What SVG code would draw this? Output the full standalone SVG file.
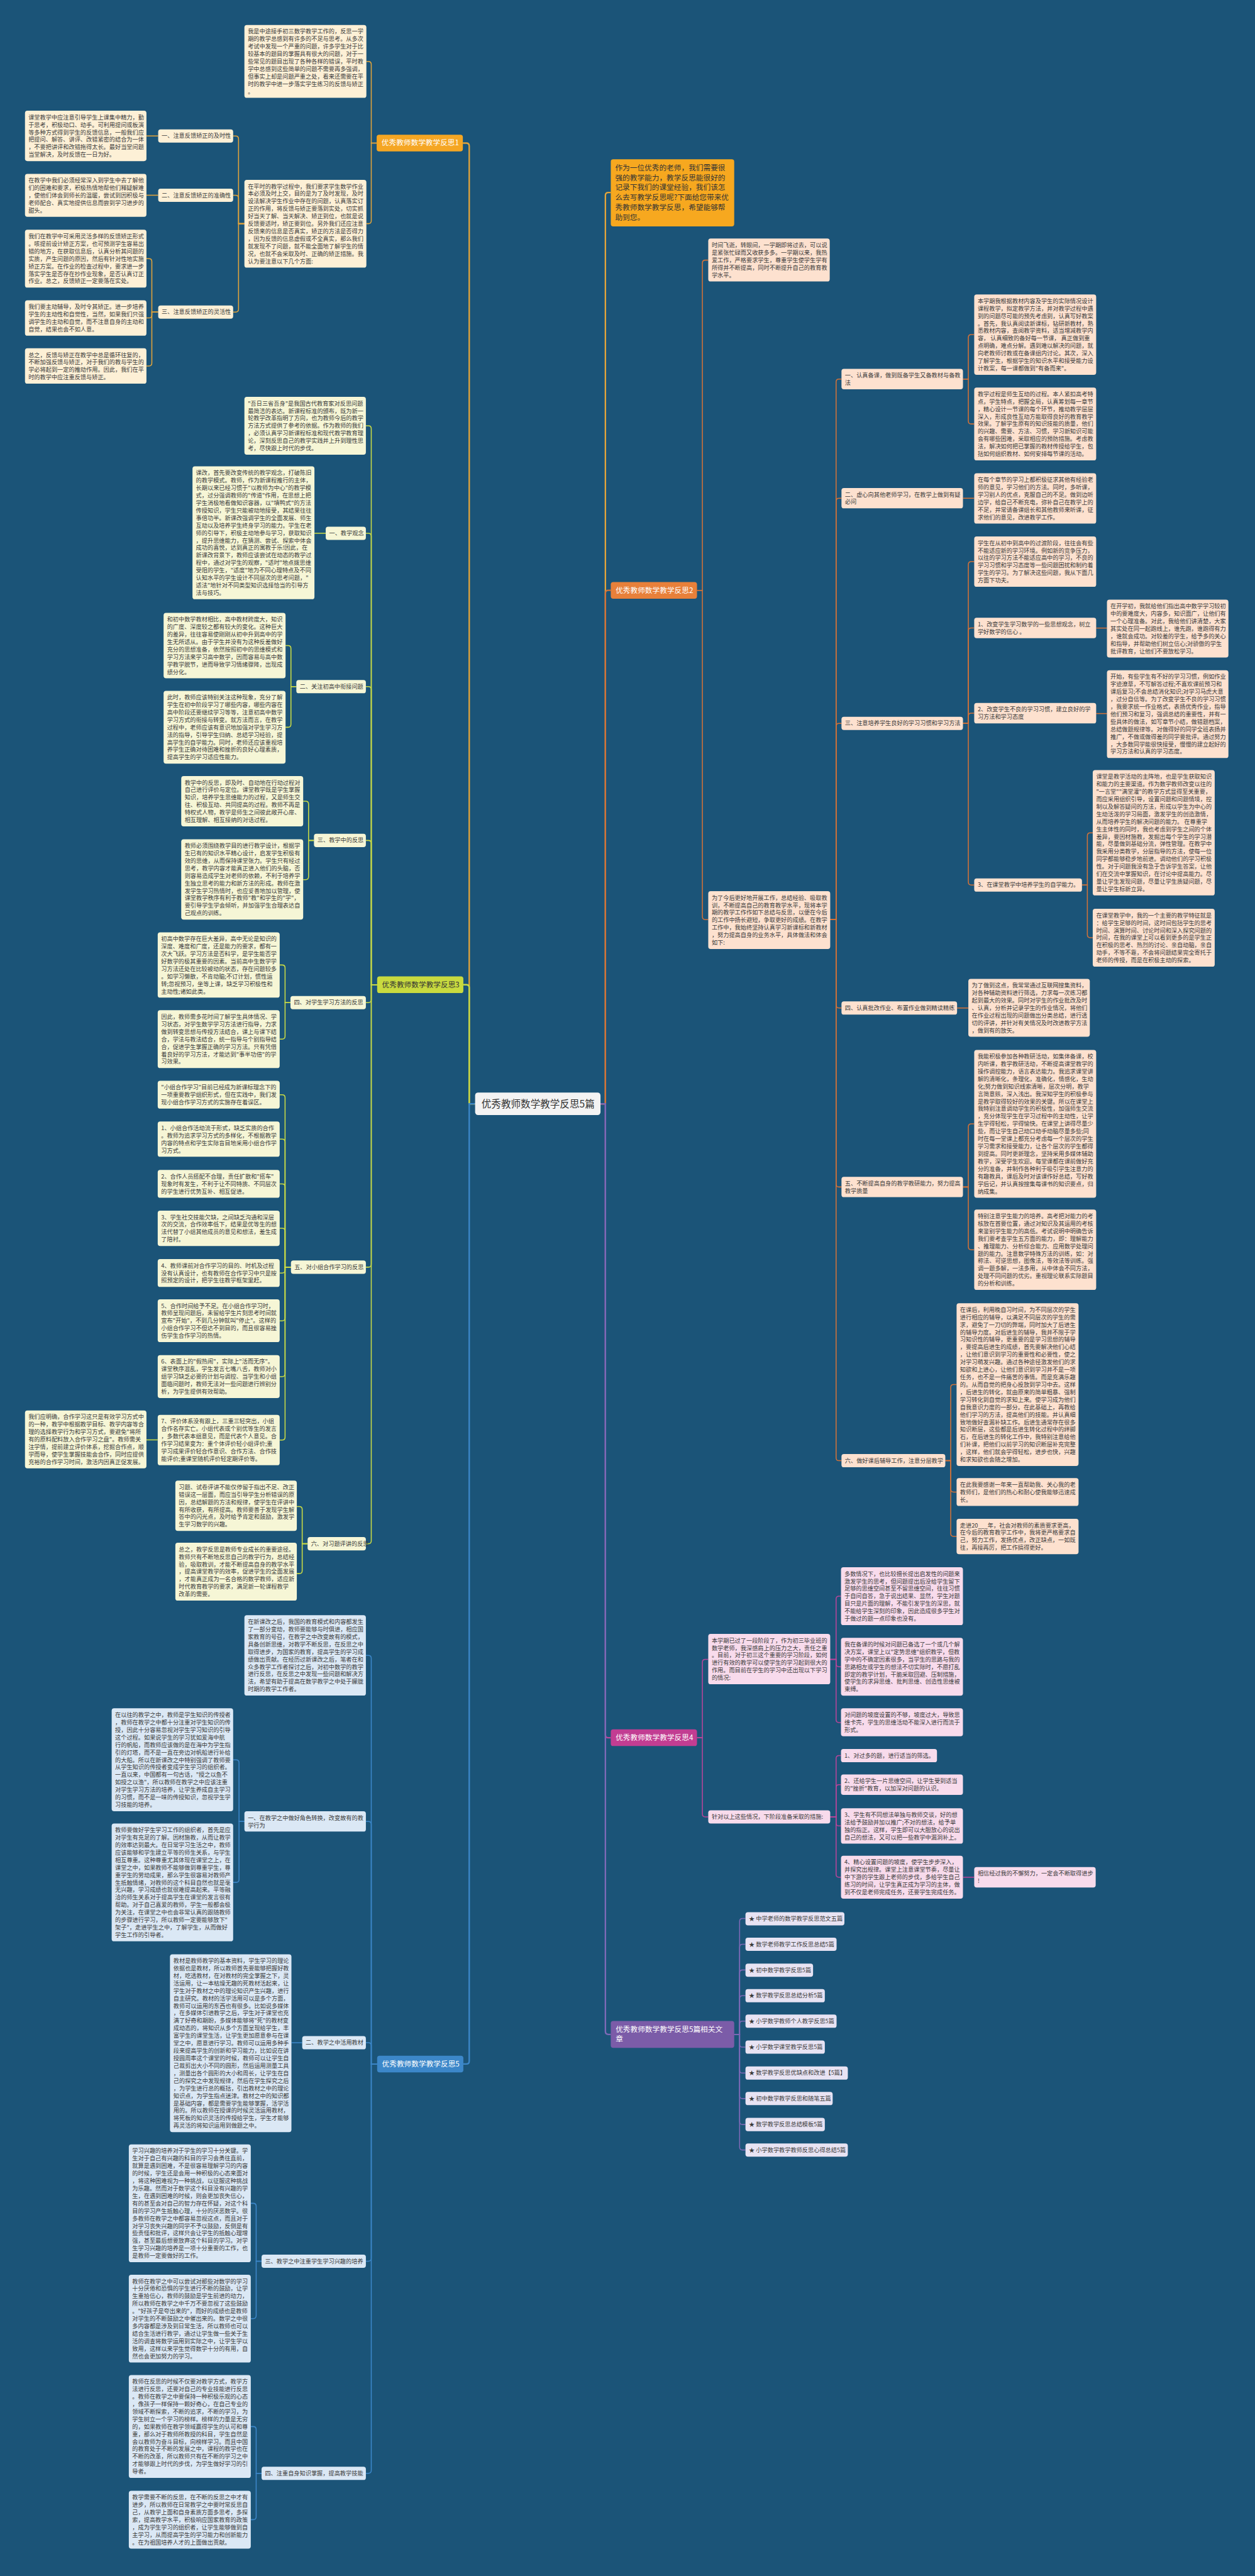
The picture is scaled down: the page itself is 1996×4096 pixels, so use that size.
<svg xmlns="http://www.w3.org/2000/svg" width="1996" height="4096" viewBox="0 0 1996 4096">
<style>
.t{font-family:"Noto Sans CJK SC","Noto Sans",sans-serif;font-size:11.8px;fill:#3a3a3a}
.bt{font-family:"Noto Sans CJK SC","Noto Sans",sans-serif;font-size:15px;fill:#ffffff}
.dk{fill:#333}
.rt{font-family:"Noto Sans CJK SC","Noto Sans",sans-serif;font-size:20px;fill:#333}
.c{fill:none;stroke-width:2}
.c0{fill:none;stroke-width:3}
.k1{stroke:#e2a43b}.k2{stroke:#d27239}.k3{stroke:#c9db45}.k4{stroke:#b8459a}.k5{stroke:#3c87c9}.k6{stroke:#7d69b6}
.r1{fill:#fdf0d6}.r2{fill:#fde1cf}.r3{fill:#f6f6d6}.r4{fill:#f8dbec}.r5{fill:#dbe8f5}.r6{fill:#e8e3f3}
</style>
<rect x="0" y="0" width="1996" height="4096" fill="#1b5478"/>
<g transform="scale(0.779)">
<g id="connectors">
<path class="c0 k1" d="M970 2253 H958 V298 Q958 292 952 292 H945"/>
<path class="c0 k3" d="M970 2253 H958 V2016 Q958 2010 952 2010 H946"/>
<path class="c0 k5" d="M970 2253 H958 V4207 Q958 4213 952 4213 H946"/>
<path class="c0 k1" d="M1226 2253 H1236 V399 Q1236 393 1242 393 H1247"/>
<path class="c0 k2" d="M1226 2253 H1236 V1211 Q1236 1205 1242 1205 H1247"/>
<path class="c0 k4" d="M1226 2253 H1236 V3541 Q1236 3547 1242 3547 H1247"/>
<path class="c0 k6" d="M1226 2253 H1236 V4146.5 Q1236 4152.5 1242 4152.5 H1247"/>
<path class="c k1" d="M769 292 H758 V131.5 Q758 125.5 752 125.5 H748"/>
<path class="c k1" d="M769 292 H758 V450.5 Q758 456.5 752 456.5 H748"/>
<path class="c k1" d="M499 456.5 H487 V283.5 Q487 277.5 481 277.5 H476"/>
<path class="c k1" d="M499 456.5 H487 V404.5 Q487 398.5 481 398.5 H476"/>
<path class="c k1" d="M499 456.5 H487 V631 Q487 637 481 637 H476"/>
<path class="c k1" d="M323 277.5 H299"/>
<path class="c k1" d="M323 398.5 H299"/>
<path class="c k1" d="M323 637 H310 V534 Q310 528 304 528 H299"/>
<path class="c k1" d="M323 637 H310 V643 Q310 649 304 649 H299"/>
<path class="c k1" d="M323 637 H310 V741 Q310 747 304 747 H299"/>
<path class="c k3" d="M770 2010 H758 V875 Q758 869 752 869 H747"/>
<path class="c k3" d="M770 2010 H758 V1094.5 Q758 1088.5 752 1088.5 H747"/>
<path class="c k3" d="M770 2010 H758 V1407.5 Q758 1401.5 752 1401.5 H747"/>
<path class="c k3" d="M770 2010 H758 V1721.5 Q758 1715.5 752 1715.5 H747"/>
<path class="c k3" d="M770 2010 H758 V2040.5 Q758 2046.5 752 2046.5 H747"/>
<path class="c k3" d="M770 2010 H758 V2580.5 Q758 2586.5 752 2586.5 H747"/>
<path class="c k3" d="M770 2010 H758 V3145 Q758 3151 752 3151 H747"/>
<path class="c k3" d="M665 1088.5 H642"/>
<path class="c k3" d="M605 1401.5 H594 V1323.7 Q594 1317.7 588 1317.7 H583"/>
<path class="c k3" d="M605 1401.5 H594 V1478.4 Q594 1484.4 588 1484.4 H583"/>
<path class="c k3" d="M641 1715.5 H630 V1641.4 Q630 1635.4 624 1635.4 H619"/>
<path class="c k3" d="M641 1715.5 H630 V1789.5 Q630 1795.5 624 1795.5 H619"/>
<path class="c k3" d="M593 2046.5 H582 V1975.7 Q582 1969.7 576 1969.7 H571"/>
<path class="c k3" d="M593 2046.5 H582 V2115 Q582 2121 576 2121 H571"/>
<path class="c k3" d="M594 2586.5 H582 V2240.5 Q582 2234.5 576 2234.5 H571"/>
<path class="c k3" d="M594 2586.5 H582 V2331 Q582 2325 576 2325 H571"/>
<path class="c k3" d="M594 2586.5 H582 V2422.5 Q582 2416.5 576 2416.5 H571"/>
<path class="c k3" d="M594 2586.5 H582 V2513 Q582 2507 576 2507 H571"/>
<path class="c k3" d="M594 2586.5 H582 V2592.5 Q582 2598.5 576 2598.5 H571"/>
<path class="c k3" d="M594 2586.5 H582 V2690 Q582 2696 576 2696 H571"/>
<path class="c k3" d="M594 2586.5 H582 V2804 Q582 2810 576 2810 H571"/>
<path class="c k3" d="M594 2586.5 H582 V2933.4 Q582 2939.4 576 2939.4 H571"/>
<path class="c k3" d="M322 2939 H299"/>
<path class="c k3" d="M628 3151 H617 V3081 Q617 3075 611 3075 H606"/>
<path class="c k3" d="M628 3151 H617 V3206 Q617 3212 611 3212 H606"/>
<path class="c k5" d="M770 4213 H758 V3385 Q758 3379 752 3379 H747"/>
<path class="c k5" d="M770 4213 H758 V3723.8 Q758 3717.8 752 3717.8 H747"/>
<path class="c k5" d="M770 4213 H758 V4175.5 Q758 4169.5 752 4169.5 H747"/>
<path class="c k5" d="M770 4213 H758 V4609.5 Q758 4615.5 752 4615.5 H747"/>
<path class="c k5" d="M770 4213 H758 V5042.5 Q758 5048.5 752 5048.5 H747"/>
<path class="c k5" d="M499 3717.8 H488 V3598 Q488 3592 482 3592 H476"/>
<path class="c k5" d="M499 3717.8 H488 V3836.3 Q488 3842.3 482 3842.3 H476"/>
<path class="c k5" d="M617 4169.5 H595"/>
<path class="c k5" d="M534 4615.5 H523 V4503.3 Q523 4497.3 517 4497.3 H512"/>
<path class="c k5" d="M534 4615.5 H523 V4726.7 Q523 4732.7 517 4732.7 H512"/>
<path class="c k5" d="M534 5048.5 H523 V4959 Q523 4953 517 4953 H512"/>
<path class="c k5" d="M534 5048.5 H523 V5137 Q523 5143 517 5143 H512"/>
<path class="c k2" d="M1423 1205 H1434 V537 Q1434 531 1440 531 H1446"/>
<path class="c k2" d="M1423 1205 H1434 V1871 Q1434 1877 1440 1877 H1446"/>
<path class="c k2" d="M1695 1877 H1707 V779.8 Q1707 773.8 1713 773.8 H1718"/>
<path class="c k2" d="M1695 1877 H1707 V1023 Q1707 1017 1713 1017 H1718"/>
<path class="c k2" d="M1695 1877 H1707 V1482.5 Q1707 1476.5 1713 1476.5 H1718"/>
<path class="c k2" d="M1695 1877 H1707 V2051.5 Q1707 2057.5 1713 2057.5 H1718"/>
<path class="c k2" d="M1695 1877 H1707 V2416.8 Q1707 2422.8 1713 2422.8 H1718"/>
<path class="c k2" d="M1695 1877 H1707 V2975.5 Q1707 2981.5 1713 2981.5 H1718"/>
<path class="c k2" d="M1966 773.8 H1977 V689 Q1977 683 1983 683 H1989"/>
<path class="c k2" d="M1966 773.8 H1977 V859.4 Q1977 865.4 1983 865.4 H1989"/>
<path class="c k2" d="M1966 1017 H1989"/>
<path class="c k2" d="M1966 1476.5 H1977 V1152.4 Q1977 1146.4 1983 1146.4 H1989"/>
<path class="c k2" d="M1966 1476.5 H1977 V1287.8 Q1977 1281.8 1983 1281.8 H1989"/>
<path class="c k2" d="M1966 1476.5 H1977 V1461.8 Q1977 1455.8 1983 1455.8 H1989"/>
<path class="c k2" d="M1966 1476.5 H1977 V1800.5 Q1977 1806.5 1983 1806.5 H1989"/>
<path class="c k2" d="M2238 1282 H2260"/>
<path class="c k2" d="M2238 1456.5 H2260"/>
<path class="c k2" d="M2209 1806.5 H2220 V1705.9 Q2220 1699.9 2226 1699.9 H2231"/>
<path class="c k2" d="M2209 1806.5 H2220 V1908 Q2220 1914 2226 1914 H2231"/>
<path class="c k2" d="M1954 2057.5 H1977"/>
<path class="c k2" d="M1966 2422.8 H1977 V2299.9 Q1977 2293.9 1983 2293.9 H1989"/>
<path class="c k2" d="M1966 2422.8 H1977 V2545 Q1977 2551 1983 2551 H1989"/>
<path class="c k2" d="M1930 2981.5 H1941 V2832 Q1941 2826 1947 2826 H1953"/>
<path class="c k2" d="M1930 2981.5 H1941 V3039.5 Q1941 3045.5 1947 3045.5 H1953"/>
<path class="c k2" d="M1930 2981.5 H1941 V3130 Q1941 3136 1947 3136 H1953"/>
<path class="c k4" d="M1423 3547 H1434 V3393 Q1434 3387 1440 3387 H1446"/>
<path class="c k4" d="M1423 3547 H1434 V3702.5 Q1434 3708.5 1440 3708.5 H1446"/>
<path class="c k4" d="M1695 3387 H1707 V3264 Q1707 3258 1713 3258 H1717"/>
<path class="c k4" d="M1695 3387 H1707 V3396 Q1707 3402 1713 3402 H1717"/>
<path class="c k4" d="M1695 3387 H1707 V3510 Q1707 3516 1713 3516 H1717"/>
<path class="c k4" d="M1695 3708.5 H1707 V3589.5 Q1707 3583.5 1713 3583.5 H1717"/>
<path class="c k4" d="M1695 3708.5 H1707 V3648.8 Q1707 3642.8 1713 3642.8 H1717"/>
<path class="c k4" d="M1695 3708.5 H1707 V3721 Q1707 3727 1713 3727 H1717"/>
<path class="c k4" d="M1695 3708.5 H1707 V3825.8 Q1707 3831.8 1713 3831.8 H1717"/>
<path class="c k4" d="M1966 3831.8 H1989"/>
<path class="c k6" d="M1499 4152.5 H1510 V3922 Q1510 3916 1516 3916 H1522"/>
<path class="c k6" d="M1499 4152.5 H1510 V3974.5 Q1510 3968.5 1516 3968.5 H1522"/>
<path class="c k6" d="M1499 4152.5 H1510 V4027 Q1510 4021 1516 4021 H1522"/>
<path class="c k6" d="M1499 4152.5 H1510 V4079.5 Q1510 4073.5 1516 4073.5 H1522"/>
<path class="c k6" d="M1499 4152.5 H1510 V4131.5 Q1510 4125.5 1516 4125.5 H1522"/>
<path class="c k6" d="M1499 4152.5 H1510 V4172.5 Q1510 4178.5 1516 4178.5 H1522"/>
<path class="c k6" d="M1499 4152.5 H1510 V4225.5 Q1510 4231.5 1516 4231.5 H1522"/>
<path class="c k6" d="M1499 4152.5 H1510 V4277.5 Q1510 4283.5 1516 4283.5 H1522"/>
<path class="c k6" d="M1499 4152.5 H1510 V4330.5 Q1510 4336.5 1516 4336.5 H1522"/>
<path class="c k6" d="M1499 4152.5 H1510 V4382.5 Q1510 4388.5 1516 4388.5 H1522"/>
</g>

<g id="root"><rect x="970" y="2230" width="256" height="46" rx="6" fill="#f3f3f3"/><text class="rt" x="983" y="2260">优秀教师数学教学反思5篇</text></g>

<g id="b1"><rect x="769" y="275" width="176" height="34" rx="5" fill="#f5a623"/><text class="bt" x="779" y="297">优秀教师数学教学反思1</text></g>
<g id="b1-top"><rect class="r1" x="499" y="51" width="249" height="148.7" rx="5"/><text class="t" x="506" y="68.5"><tspan x="506">我是中途接手初三数学教学工作的，反思一学</tspan><tspan x="506" dy="15.3">期的教学总感到有许多的不足与思考。从多次</tspan><tspan x="506" dy="15.3">考试中发现一个严重的问题，许多学生对于比</tspan><tspan x="506" dy="15.3">较基本的题目的掌握具有很大的问题，对于一</tspan><tspan x="506" dy="15.3">些常见的题目出现了各种各样的错误，平时教</tspan><tspan x="506" dy="15.3">学中总感到这些简单的问题不需要再多强调，</tspan><tspan x="506" dy="15.3">但事实上却是问题严重之处，看来还需要在平</tspan><tspan x="506" dy="15.3">时的教学中进一步落实学生练习的反馈与矫正</tspan><tspan x="506" dy="15.3">。</tspan></text></g>
<g id="b1-intro"><rect class="r1" x="499" y="367" width="249" height="179.3" rx="5"/><text class="t" x="506" y="384.5"><tspan x="506">在平时的教学过程中，我们要求学生数学作业</tspan><tspan x="506" dy="15.3">本必须及时上交，目的是为了及时发现，及时</tspan><tspan x="506" dy="15.3">设法解决学生作业中存在的问题，认真落实订</tspan><tspan x="506" dy="15.3">正的作用，将反馈与矫正要落到实处，切实抓</tspan><tspan x="506" dy="15.3">好当天了解、当天解决、矫正到位，也就是说</tspan><tspan x="506" dy="15.3">反馈要适时，矫正要到位。另外我们还应注意</tspan><tspan x="506" dy="15.3">反馈来的信息是否真实，矫正的方法是否得力</tspan><tspan x="506" dy="15.3">，因为反馈的信息虚假或不全真实，那么我们</tspan><tspan x="506" dy="15.3">就发现不了问题，就不能全面地了解学生的情</tspan><tspan x="506" dy="15.3">况，也就不会采取及时、正确的矫正措施。我</tspan><tspan x="506" dy="15.3">认为要注意以下几个方面:</tspan></text></g>
<g id="b1-s1"><rect class="r1" x="323" y="264" width="153" height="27" rx="5"/><text class="t" x="330" y="281.5">一、注意反馈矫正的及时性</text></g>
<g id="b1-s2"><rect class="r1" x="323" y="385" width="153" height="27" rx="5"/><text class="t" x="330" y="402.5">二、注意反馈矫正的准确性</text></g>
<g id="b1-s3"><rect class="r1" x="323" y="623.5" width="153" height="27" rx="5"/><text class="t" x="330" y="641">三、注意反馈矫正的灵活性</text></g>
<g id="b1-l1"><rect class="r1" x="51" y="226" width="248" height="102.8" rx="5"/><text class="t" x="58" y="243.5"><tspan x="58">课堂教学中应注意引导学生上课集中精力，勤</tspan><tspan x="58" dy="15.3">于思考，积极动口、动手。可利用提问或板演</tspan><tspan x="58" dy="15.3">等多种方式得到学生的反馈信息，一般我们应</tspan><tspan x="58" dy="15.3">把提问、解答、讲评、改错紧密的结合为一体</tspan><tspan x="58" dy="15.3">，不要把讲评和改错拖得太长。最好当堂问题</tspan><tspan x="58" dy="15.3">当堂解决，及时反馈在一日为好。</tspan></text></g>
<g id="b1-l2"><rect class="r1" x="51" y="355" width="248" height="87.5" rx="5"/><text class="t" x="58" y="372.5"><tspan x="58">在教学中我们必须经常深入到学生中去了解他</tspan><tspan x="58" dy="15.3">们的困难和要求，积极热情地帮他们释疑解难</tspan><tspan x="58" dy="15.3">，使他们体会到师长的温暖，尝试到因积极与</tspan><tspan x="58" dy="15.3">老师配合、真实地提供信息而尝到学习进步的</tspan><tspan x="58" dy="15.3">甜头。</tspan></text></g>
<g id="b1-l3"><rect class="r1" x="51" y="469" width="248" height="118.1" rx="5"/><text class="t" x="58" y="486.5"><tspan x="58">我们在教学中可采用灵活多样的反馈矫正形式</tspan><tspan x="58" dy="15.3">。咳提前设计矫正方案，也可预测学生容易出</tspan><tspan x="58" dy="15.3">错的地方，在获取信息后，认真分析其问题的</tspan><tspan x="58" dy="15.3">实质，产生问题的原因，然后有针对性地实施</tspan><tspan x="58" dy="15.3">矫正方案。在作业的检查过程中，要求进一步</tspan><tspan x="58" dy="15.3">落实学生是否存在抄作业现象，是否认真订正</tspan><tspan x="58" dy="15.3">作业。总之，反馈矫正一定要落在实处。</tspan></text></g>
<g id="b1-l4"><rect class="r1" x="51" y="613" width="248" height="72.2" rx="5"/><text class="t" x="58" y="630.5"><tspan x="58">我们要主动辅导，及时令其矫正。进一步培养</tspan><tspan x="58" dy="15.3">学生的主动性和自觉性，当然，如果我们只强</tspan><tspan x="58" dy="15.3">调学生的主动和自觉，而不注意自身的主动和</tspan><tspan x="58" dy="15.3">自觉，结果也会不如人意。</tspan></text></g>
<g id="b1-l5"><rect class="r1" x="51" y="711" width="248" height="72.2" rx="5"/><text class="t" x="58" y="728.5"><tspan x="58">总之，反馈与矫正在教学中总是循环往复的，</tspan><tspan x="58" dy="15.3">不断加强反馈与矫正，对于我们的教与学生的</tspan><tspan x="58" dy="15.3">学必将起到一定的推动作用。因此，我们在平</tspan><tspan x="58" dy="15.3">时的教学中应注重反馈与矫正。</tspan></text></g>

<g id="intro"><rect x="1247" y="325" width="252" height="137" rx="5" fill="#f7a81f"/><text class="bt dk" x="1256" y="347.5"><tspan x="1256">作为一位优秀的老师，我们需要很</tspan><tspan x="1256" dy="20.3">强的教学能力，教学反思能很好的</tspan><tspan x="1256" dy="20.3">记录下我们的课堂经验，我们该怎</tspan><tspan x="1256" dy="20.3">么去写教学反思呢?下面给您带来优</tspan><tspan x="1256" dy="20.3">秀教师数学教学反思，希望能够帮</tspan><tspan x="1256" dy="20.3">助到您。</tspan></text></g>

<g id="b2"><rect x="1247" y="1188" width="176" height="34" rx="5" fill="#e8803a"/><text class="bt" x="1257" y="1210">优秀教师数学教学反思2</text></g>
<g id="b2-a"><rect class="r2" x="1446" y="487" width="248" height="87.5" rx="5"/><text class="t" x="1453" y="504.5"><tspan x="1453">时间飞逝，转眼间，一学期即将过去，可以说</tspan><tspan x="1453" dy="15.3">是紧张忙碌而又收获多多。一学期以来，我热</tspan><tspan x="1453" dy="15.3">爱工作，严格要求学生，尊重学生使学生学有</tspan><tspan x="1453" dy="15.3">所得并不断提高，同时不断提升自己的教育教</tspan><tspan x="1453" dy="15.3">学水平。</tspan></text></g>
<g id="b2-x"><rect class="r2" x="1446" y="1819" width="249" height="118.1" rx="5"/><text class="t" x="1453" y="1836.5"><tspan x="1453">为了今后更好地开展工作，总结经验、吸取教</tspan><tspan x="1453" dy="15.3">训，不断提高自己的教育教学水平，现将本学</tspan><tspan x="1453" dy="15.3">期的教学工作作如下总结与反思，以便在今后</tspan><tspan x="1453" dy="15.3">的工作中扬长避短，争取更好的成绩。在教学</tspan><tspan x="1453" dy="15.3">工作中，我始终坚持认真学习新课标和新教材</tspan><tspan x="1453" dy="15.3">，努力提高自身的业务水平，具体做法和体会</tspan><tspan x="1453" dy="15.3">如下:</tspan></text></g>
<g id="b2-s1"><rect class="r2" x="1718" y="753" width="248" height="41.6" rx="5"/><text class="t" x="1725" y="770.5"><tspan x="1725">一、认真备课，做到既备学生又备教材与备教</tspan><tspan x="1725" dy="15.3">法</tspan></text></g>
<g id="b2-s1a"><rect class="r2" x="1989" y="601" width="249" height="164" rx="5"/><text class="t" x="1996" y="618.5"><tspan x="1996">本学期我根据教材内容及学生的实际情况设计</tspan><tspan x="1996" dy="15.3">课程教学，拟定教学方法，并对教学过程中遇</tspan><tspan x="1996" dy="15.3">到的问题尽可能的预先考虑到，认真写好教案</tspan><tspan x="1996" dy="15.3">。首先，我认真阅读新课标，钻研新教材，熟</tspan><tspan x="1996" dy="15.3">悉教材内容，查阅教学资料，适当增减教学内</tspan><tspan x="1996" dy="15.3">容， 认真细致的备好每一节课， 真正做到重</tspan><tspan x="1996" dy="15.3">点明确，难点分解。遇到难以解决的问题，就</tspan><tspan x="1996" dy="15.3">向老教师讨教或在备课组内讨论。其次，深入</tspan><tspan x="1996" dy="15.3">了解学生，根据学生的知识水平和接受能力设</tspan><tspan x="1996" dy="15.3">计教案，每一课都做到"有备而来"。</tspan></text></g>
<g id="b2-s1b"><rect class="r2" x="1989" y="791" width="249" height="148.7" rx="5"/><text class="t" x="1996" y="808.5"><tspan x="1996">教学过程是师生互动的过程。本人紧扣高考特</tspan><tspan x="1996" dy="15.3">点，学生特点，把握全局，认真筹划每一章节</tspan><tspan x="1996" dy="15.3">，精心设计一节课的每个环节，推动教学层层</tspan><tspan x="1996" dy="15.3">深入，形成良性互动方能取得良好的教育教学</tspan><tspan x="1996" dy="15.3">效果。了解学生原有的知识技能的质量，他们</tspan><tspan x="1996" dy="15.3">的兴趣、需要、方法、习惯，学习新知识可能</tspan><tspan x="1996" dy="15.3">会有哪些困难，采取相应的预防措施。考虑教</tspan><tspan x="1996" dy="15.3">法，解决如何把已掌握的教材传授给学生，包</tspan><tspan x="1996" dy="15.3">括如何组织教材、如何安排每节课的活动。</tspan></text></g>
<g id="b2-s2"><rect class="r2" x="1718" y="996" width="248" height="41.6" rx="5"/><text class="t" x="1725" y="1013.5"><tspan x="1725">二、虚心向其他老师学习，在教学上做到有疑</tspan><tspan x="1725" dy="15.3">必问</tspan></text></g>
<g id="b2-s2a"><rect class="r2" x="1989" y="966" width="249" height="102.8" rx="5"/><text class="t" x="1996" y="983.5"><tspan x="1996">在每个章节的学习上都积极征求其他有经验老</tspan><tspan x="1996" dy="15.3">师的意见，学习他们的方法。同时，多听课，</tspan><tspan x="1996" dy="15.3">学习别人的优点，克服自己的不足。做到边听</tspan><tspan x="1996" dy="15.3">边学，给自己不断充电，弥补自己在教学上的</tspan><tspan x="1996" dy="15.3">不足，并常请备课组长和其他教师来听课，征</tspan><tspan x="1996" dy="15.3">求他们的意见，改进教学工作。</tspan></text></g>
<g id="b2-s3"><rect class="r2" x="1718" y="1463" width="248" height="27" rx="5"/><text class="t" x="1725" y="1480.5">三、注意培养学生良好的学习习惯和学习方法</text></g>
<g id="b2-s3a"><rect class="r2" x="1989" y="1095" width="249" height="102.8" rx="5"/><text class="t" x="1996" y="1112.5"><tspan x="1996">学生在从初中到高中的过渡阶段，往往会有些</tspan><tspan x="1996" dy="15.3">不能适应新的学习环境。例如新的竞争压力，</tspan><tspan x="1996" dy="15.3">以往的学习方法不能适应高中的学习，不良的</tspan><tspan x="1996" dy="15.3">学习习惯和学习态度等一些问题困扰和制约着</tspan><tspan x="1996" dy="15.3">学生的学习。为了解决这些问题，我从下面几</tspan><tspan x="1996" dy="15.3">方面下功夫。</tspan></text></g>
<g id="b2-s3b"><rect class="r2" x="1989" y="1261" width="249" height="41.6" rx="5"/><text class="t" x="1996" y="1278.5"><tspan x="1996">1、改变学生学习数学的一些思想观念，树立</tspan><tspan x="1996" dy="15.3">学好数学的信心 。</tspan></text></g>
<g id="b2-s3b1"><rect class="r2" x="2260" y="1224" width="248" height="118.1" rx="5"/><text class="t" x="2267" y="1241.5"><tspan x="2267">在开学初，我就给他们指出高中数学学习较初</tspan><tspan x="2267" dy="15.3">中的要难度大，内容多，知识面广，让他们有</tspan><tspan x="2267" dy="15.3">一个心理准备。对此，我给他们讲清楚，大家</tspan><tspan x="2267" dy="15.3">其实处在同一起跑线上，谁先跑，谁跑得有力</tspan><tspan x="2267" dy="15.3">，谁就会成功。对较差的学生，给予多的关心</tspan><tspan x="2267" dy="15.3">和指导，并帮助他们树立信心;对骄傲的学生</tspan><tspan x="2267" dy="15.3">批评教育，让他们不要放松学习。</tspan></text></g>
<g id="b2-s3c"><rect class="r2" x="1989" y="1435" width="249" height="41.6" rx="5"/><text class="t" x="1996" y="1452.5"><tspan x="1996">2、改变学生不良的学习习惯，建立良好的学</tspan><tspan x="1996" dy="15.3">习方法和学习态度</tspan></text></g>
<g id="b2-s3c1"><rect class="r2" x="2260" y="1368" width="248" height="179.3" rx="5"/><text class="t" x="2267" y="1385.5"><tspan x="2267">开始，有些学生有不好的学习习惯，例如作业</tspan><tspan x="2267" dy="15.3">字迹潦草，不写解答过程;不喜欢课前预习和</tspan><tspan x="2267" dy="15.3">课后复习;不会总结消化知识;对学习马虎大意</tspan><tspan x="2267" dy="15.3">，过分自信等。为了改变学生不良的学习习惯</tspan><tspan x="2267" dy="15.3">，我要求统一作业格式，表扬优秀作业，指导</tspan><tspan x="2267" dy="15.3">他们预习和复习，强调总结的重要性，并有一</tspan><tspan x="2267" dy="15.3">些具体的做法，如写章节小结，做错题档案，</tspan><tspan x="2267" dy="15.3">总结做题规律等。对做得好的同学全班表扬并</tspan><tspan x="2267" dy="15.3">推广，不做或做得差的同学要批评。通过努力</tspan><tspan x="2267" dy="15.3">，大多数同学能很快接受，慢慢的建立起好的</tspan><tspan x="2267" dy="15.3">学习方法和认真的学习态度。</tspan></text></g>
<g id="b2-s3d"><rect class="r2" x="1989" y="1793" width="220" height="27" rx="5"/><text class="t" x="1996" y="1810.5">3、在课堂教学中培养学生的自学能力。</text></g>
<g id="b2-s3d1"><rect class="r2" x="2231" y="1572" width="249" height="255.8" rx="5"/><text class="t" x="2238" y="1589.5"><tspan x="2238">课堂是教学活动的主阵地，也是学生获取知识</tspan><tspan x="2238" dy="15.3">和能力的主要渠道。作为数学教师改变以往的</tspan><tspan x="2238" dy="15.3">"一言堂""满堂灌"的教学方式显得至关重要，</tspan><tspan x="2238" dy="15.3">而应采用组织引导，设置问题和问题情境，控</tspan><tspan x="2238" dy="15.3">制以及解答疑问的方法，形成以学生为中心的</tspan><tspan x="2238" dy="15.3">生动活泼的学习局面，激发学生的创造激情，</tspan><tspan x="2238" dy="15.3">从而培养学生的解决问题的能力。 在尊重学</tspan><tspan x="2238" dy="15.3">生主体性的同时，我也考虑到学生之间的个体</tspan><tspan x="2238" dy="15.3">差异，要因材施教，发掘出每个学生的学习潜</tspan><tspan x="2238" dy="15.3">能，尽量做到基础分流，弹性管理。在教学中</tspan><tspan x="2238" dy="15.3">我采用分类教学，分层指导的方法，使每一位</tspan><tspan x="2238" dy="15.3">同学都能够稳步地前进。调动他们的学习积极</tspan><tspan x="2238" dy="15.3">性。对于问题我没有急于告诉学生答案，让他</tspan><tspan x="2238" dy="15.3">们在交流中掌握知识，在讨论中提高能力。尽</tspan><tspan x="2238" dy="15.3">量让学生发现问题，尽量让学生质疑问题，尽</tspan><tspan x="2238" dy="15.3">量让学生标新立异。</tspan></text></g>
<g id="b2-s3d2"><rect class="r2" x="2231" y="1855" width="249" height="118.1" rx="5"/><text class="t" x="2238" y="1872.5"><tspan x="2238">在课堂教学中，我的一个主要的教学特征就是</tspan><tspan x="2238" dy="15.3">：给学生足够的时间，这时间包括学生的思考</tspan><tspan x="2238" dy="15.3">时间、演算时间、讨论时间和深入探究问题的</tspan><tspan x="2238" dy="15.3">时间，在我的课堂上可以看到更多的是学生正</tspan><tspan x="2238" dy="15.3">在积极的思考、热烈的讨论、亲自动脑，亲自</tspan><tspan x="2238" dy="15.3">动手，不等不靠，不会将问题结果完全寄托于</tspan><tspan x="2238" dy="15.3">老师的传授，而是在积极主动的探索。</tspan></text></g>
<g id="b2-s4"><rect class="r2" x="1718" y="2044" width="236" height="27" rx="5"/><text class="t" x="1725" y="2061.5">四、认真批改作业、布置作业做到精读精练</text></g>
<g id="b2-s4a"><rect class="r2" x="1977" y="1998" width="248" height="118.1" rx="5"/><text class="t" x="1984" y="2015.5"><tspan x="1984">为了做到这点，我常常通过互联网搜集资料，</tspan><tspan x="1984" dy="15.3">对各种辅助资料进行筛选，力求每一次练习都</tspan><tspan x="1984" dy="15.3">起到最大的效果。同时对学生的作业批改及时</tspan><tspan x="1984" dy="15.3">、认真，分析并记录学生的作业情况，将他们</tspan><tspan x="1984" dy="15.3">在作业过程出现的问题做出分类总结，进行透</tspan><tspan x="1984" dy="15.3">切的评讲，并针对有关情况及时改进教学方法</tspan><tspan x="1984" dy="15.3">，做到有的放矢。</tspan></text></g>
<g id="b2-s5"><rect class="r2" x="1718" y="2402" width="248" height="41.6" rx="5"/><text class="t" x="1725" y="2419.5"><tspan x="1725">五、不断提高自身的教学教研能力，努力提高</tspan><tspan x="1725" dy="15.3">教学质量</tspan></text></g>
<g id="b2-s5a"><rect class="r2" x="1989" y="2143" width="249" height="301.7" rx="5"/><text class="t" x="1996" y="2160.5"><tspan x="1996">我能积极参加各种教研活动，如集体备课，校</tspan><tspan x="1996" dy="15.3">内听课，教学教研活动，不断提高课堂教学的</tspan><tspan x="1996" dy="15.3">操作调控能力，语言表达能力。我追求课堂讲</tspan><tspan x="1996" dy="15.3">解的清晰化，条理化，准确化，情感化，生动</tspan><tspan x="1996" dy="15.3">化;努力做到知识线索清晰，层次分明，教学</tspan><tspan x="1996" dy="15.3">言简意赅，深入浅出。我深知学生的积极参与</tspan><tspan x="1996" dy="15.3">是教学取得较好的效果的关键。所以在课堂上</tspan><tspan x="1996" dy="15.3">我特别注意调动学生的积极性，加强师生交流</tspan><tspan x="1996" dy="15.3">，充分体现学生在学习过程中的主动性，让学</tspan><tspan x="1996" dy="15.3">生学得轻松，学得愉快。在课堂上讲得尽量少</tspan><tspan x="1996" dy="15.3">些，而让学生自己动口动手动脑尽量多些;同</tspan><tspan x="1996" dy="15.3">时在每一堂课上都充分考虑每一个层次的学生</tspan><tspan x="1996" dy="15.3">学习需求和接受能力，让各个层次的学生都得</tspan><tspan x="1996" dy="15.3">到提高。同时更新理念，坚持采用多媒体辅助</tspan><tspan x="1996" dy="15.3">教学，深受学生欢迎。每堂课都在课前做好充</tspan><tspan x="1996" dy="15.3">分的准备，并制作各种利于吸引学生注意力的</tspan><tspan x="1996" dy="15.3">有趣教具，课后及时对该课作好总结，写好教</tspan><tspan x="1996" dy="15.3">学后记，并认真按搜集每课书的知识要点，归</tspan><tspan x="1996" dy="15.3">纳成集。</tspan></text></g>
<g id="b2-s5b"><rect class="r2" x="1989" y="2469" width="249" height="164" rx="5"/><text class="t" x="1996" y="2486.5"><tspan x="1996">特别注意学生能力的培养。高考把对能力的考</tspan><tspan x="1996" dy="15.3">核放在首要位置，通过对知识及其运用的考核</tspan><tspan x="1996" dy="15.3">来鉴别学生能力的高低。考试说明中明确告诉</tspan><tspan x="1996" dy="15.3">我们要考查学生五方面的能力，即：理解能力</tspan><tspan x="1996" dy="15.3">、推理能力、分析综合能力、应用数学处理问</tspan><tspan x="1996" dy="15.3">题的能力。注意数学特殊方法的训练，如：对</tspan><tspan x="1996" dy="15.3">称法、可逆思想，图像法，等效法等训练。强</tspan><tspan x="1996" dy="15.3">调一题多解，一法多用，从中体会不同方法，</tspan><tspan x="1996" dy="15.3">处理不同问题的优劣。重视理论联系实际题目</tspan><tspan x="1996" dy="15.3">的分析和训练。</tspan></text></g>
<g id="b2-s6"><rect class="r2" x="1718" y="2968" width="212" height="27" rx="5"/><text class="t" x="1725" y="2985.5">六、做好课后辅导工作，注意分层教学</text></g>
<g id="b2-s6a"><rect class="r2" x="1953" y="2660" width="249" height="332.3" rx="5"/><text class="t" x="1960" y="2677.5"><tspan x="1960">在课后，利用晚自习时间，为不同层次的学生</tspan><tspan x="1960" dy="15.3">进行相应的辅导，以满足不同层次的学生的需</tspan><tspan x="1960" dy="15.3">求，避免了一刀切的弊端，同时加大了后进生</tspan><tspan x="1960" dy="15.3">的辅导力度。对后进生的辅导，我并不限于学</tspan><tspan x="1960" dy="15.3">习知识性的辅导，更重要的是学习思想的辅导</tspan><tspan x="1960" dy="15.3">，要提高后进生的成绩，首先要解决他们心结</tspan><tspan x="1960" dy="15.3">，让他们意识到学习的重要性和必要性，使之</tspan><tspan x="1960" dy="15.3">对学习萌发兴趣。通过各种途径激发他们的求</tspan><tspan x="1960" dy="15.3">知欲和上进心，让他们意识到学习并不是一项</tspan><tspan x="1960" dy="15.3">任务，也不是一件痛苦的事情。而是充满乐趣</tspan><tspan x="1960" dy="15.3">的。从而自觉的把身心投放到学习中去。这样</tspan><tspan x="1960" dy="15.3">，后进生的转化，就由原来的简单粗暴、强制</tspan><tspan x="1960" dy="15.3">学习转化到自觉的求知上来。使学习成为他们</tspan><tspan x="1960" dy="15.3">自我意识力度的一部分。在此基础上，再教给</tspan><tspan x="1960" dy="15.3">他们学习的方法，提高他们的技能。并认真细</tspan><tspan x="1960" dy="15.3">致地做好查漏补缺工作。后进生通常存在很多</tspan><tspan x="1960" dy="15.3">知识断层，这些都是后进生转化过程中的绊脚</tspan><tspan x="1960" dy="15.3">石，在后进生的转化工作中，我特别注意给他</tspan><tspan x="1960" dy="15.3">们补课，把他们以前学习的知识断层补充完整</tspan><tspan x="1960" dy="15.3">，这样，他们就会学得轻松，进步也快，兴趣</tspan><tspan x="1960" dy="15.3">和求知欲也会随之增加。</tspan></text></g>
<g id="b2-s6b"><rect class="r2" x="1953" y="3017" width="249" height="56.9" rx="5"/><text class="t" x="1960" y="3034.5"><tspan x="1960">在此我要感谢一年来一直帮助我、关心我的老</tspan><tspan x="1960" dy="15.3">教师们，是他们的热心和耐心使我能够迅速成</tspan><tspan x="1960" dy="15.3">长。</tspan></text></g>
<g id="b2-s6c"><rect class="r2" x="1953" y="3100" width="249" height="72.2" rx="5"/><text class="t" x="1960" y="3117.5"><tspan x="1960">走进20___年，社会对教师的素质要求更高，</tspan><tspan x="1960" dy="15.3">在今后的教育教学工作中，我将更严格要求自</tspan><tspan x="1960" dy="15.3">己，努力工作，发扬优点，改正缺点，一如既</tspan><tspan x="1960" dy="15.3">往，再接再厉，把工作搞得更好。</tspan></text></g>

<g id="b3"><rect x="770" y="1993" width="176" height="34" rx="5" fill="#c8da3f"/><text class="bt dk" x="780" y="2015">优秀教师数学教学反思3</text></g>
<g id="b3-intro"><rect class="r3" x="499" y="810" width="248" height="118.1" rx="5"/><text class="t" x="506" y="827.5"><tspan x="506">"吾日三省吾身"是我国古代教育家对反思问题</tspan><tspan x="506" dy="15.3">最简洁的表达。新课程标准的颁布，既为新一</tspan><tspan x="506" dy="15.3">轮教学改革指明了方向，也为教师今后的教学</tspan><tspan x="506" dy="15.3">方法方式提供了参考的依据。作为教师的我们</tspan><tspan x="506" dy="15.3">，必须认真学习新课程标准和现代教学教育理</tspan><tspan x="506" dy="15.3">论，深刻反思自己的教学实践并上升到理性思</tspan><tspan x="506" dy="15.3">考，尽快跟上时代的步伐。</tspan></text></g>
<g id="b3-s1"><rect class="r3" x="665" y="1075" width="82" height="27" rx="5"/><text class="t" x="672" y="1092.5">一、教学观念</text></g>
<g id="b3-s1a"><rect class="r3" x="393" y="952" width="249" height="271.1" rx="5"/><text class="t" x="400" y="969.5"><tspan x="400">课改，首先要改变传统的教学观念，打破陈旧</tspan><tspan x="400" dy="15.3">的教学模式。教师，作为新课程推行的主体，</tspan><tspan x="400" dy="15.3">长期以来已经习惯于"以教师为中心"的教学模</tspan><tspan x="400" dy="15.3">式，过分强调教师的"传道"作用，在思想上把</tspan><tspan x="400" dy="15.3">学生消极地看做知识容器，以"填鸭式"的方法</tspan><tspan x="400" dy="15.3">传授知识，学生只能被动地接受，其结果往往</tspan><tspan x="400" dy="15.3">事倍功半。新课改强调学生的全面发展、师生</tspan><tspan x="400" dy="15.3">互动以及培养学生终身学习的能力。学生在老</tspan><tspan x="400" dy="15.3">师的引导下，积极主动地参与学习，获取知识</tspan><tspan x="400" dy="15.3">，提升思维能力，在猜测、尝试、探索中体会</tspan><tspan x="400" dy="15.3">成功的喜悦，达到真正的寓教于乐!因此，在</tspan><tspan x="400" dy="15.3">新课改背景下，教师应该尝试在动态的教学过</tspan><tspan x="400" dy="15.3">程中，通过对学生的观察，"适时"地点拨思维</tspan><tspan x="400" dy="15.3">受阻的学生，"适度"地为不同心理特点及不同</tspan><tspan x="400" dy="15.3">认知水平的学生设计不同层次的思考问题，"</tspan><tspan x="400" dy="15.3">适法"地针对不同类型知识选择恰当的引导方</tspan><tspan x="400" dy="15.3">法与技巧。</tspan></text></g>
<g id="b3-s2"><rect class="r3" x="605" y="1388" width="142" height="27" rx="5"/><text class="t" x="612" y="1405.5">二、关注初高中衔接问题</text></g>
<g id="b3-s2a"><rect class="r3" x="334" y="1251" width="249" height="133.4" rx="5"/><text class="t" x="341" y="1268.5"><tspan x="341">和初中数学教材相比，高中教材跨度大，知识</tspan><tspan x="341" dy="15.3">的广度、深度较之都有较大的变化。这种巨大</tspan><tspan x="341" dy="15.3">的差异，往往容易使刚刚从初中升到高中的学</tspan><tspan x="341" dy="15.3">生无所适从。由于学生并没有为这种反差做好</tspan><tspan x="341" dy="15.3">充分的思想准备，依然按照初中的思维模式和</tspan><tspan x="341" dy="15.3">学习方法来学习高中数学，因而容易与高中数</tspan><tspan x="341" dy="15.3">学教学脱节，进而导致学习情绪骤降，出现成</tspan><tspan x="341" dy="15.3">绩分化。</tspan></text></g>
<g id="b3-s2b"><rect class="r3" x="334" y="1410" width="249" height="148.7" rx="5"/><text class="t" x="341" y="1427.5"><tspan x="341">此时，教师应该特别关注这种现象，充分了解</tspan><tspan x="341" dy="15.3">学生在初中阶段学习了哪些内容，哪些内容在</tspan><tspan x="341" dy="15.3">高中阶段还要继续学习等等，注意初高中数学</tspan><tspan x="341" dy="15.3">学习方式的衔接与转变。就方法而言，在教学</tspan><tspan x="341" dy="15.3">过程中，老师应该有意识地加强对学生学习方</tspan><tspan x="341" dy="15.3">法的指导，引导学生归纳、总结学习经验，提</tspan><tspan x="341" dy="15.3">高学生的自学能力。同时，老师还应该重视培</tspan><tspan x="341" dy="15.3">养学生正确对待困难和挫折的良好心理素质，</tspan><tspan x="341" dy="15.3">提高学生的学习适应性能力。</tspan></text></g>
<g id="b3-s3"><rect class="r3" x="641" y="1702" width="106" height="27" rx="5"/><text class="t" x="648" y="1719.5">三、教学中的反思</text></g>
<g id="b3-s3a"><rect class="r3" x="370" y="1584" width="249" height="102.8" rx="5"/><text class="t" x="377" y="1601.5"><tspan x="377">教学中的反思，即及时、自动地在行动过程对</tspan><tspan x="377" dy="15.3">自己进行评价与定位。课堂教学既是学生掌握</tspan><tspan x="377" dy="15.3">知识，培养学生思维能力的过程，又是师生交</tspan><tspan x="377" dy="15.3">往、积极互动、共同提高的过程。教师不再是</tspan><tspan x="377" dy="15.3">特权式人物，教学是师生之间彼此敞开心扉、</tspan><tspan x="377" dy="15.3">相互理解、相互接纳的对话过程。</tspan></text></g>
<g id="b3-s3b"><rect class="r3" x="370" y="1713" width="249" height="164" rx="5"/><text class="t" x="377" y="1730.5"><tspan x="377">教师必须围绕教学目的进行教学设计，根据学</tspan><tspan x="377" dy="15.3">生已有的知识水平精心设计，启发学生积极有</tspan><tspan x="377" dy="15.3">效的思维，从而保持课堂张力。学生只有经过</tspan><tspan x="377" dy="15.3">思考，教学内容才能真正进入他们的头脑，否</tspan><tspan x="377" dy="15.3">则容易造成学生对老师的依赖，不利于培养学</tspan><tspan x="377" dy="15.3">生独立思考的能力和新方法的形成。教师在激</tspan><tspan x="377" dy="15.3">发学生学习热情时，也应妥善地加以管理，使</tspan><tspan x="377" dy="15.3">课堂教学秩序有利于教师"教"和学生的"学"，</tspan><tspan x="377" dy="15.3">要引导学生学会倾听，并加强学生合理表达自</tspan><tspan x="377" dy="15.3">己观点的训练。</tspan></text></g>
<g id="b3-s4"><rect class="r3" x="593" y="2033" width="154" height="27" rx="5"/><text class="t" x="600" y="2050.5">四、对学生学习方法的反思</text></g>
<g id="b3-s4a"><rect class="r3" x="322" y="1903" width="249" height="133.4" rx="5"/><text class="t" x="329" y="1920.5"><tspan x="329">初高中数学存在巨大差异，高中无论是知识的</tspan><tspan x="329" dy="15.3">深度、难度和广度，还是能力的要求，都有一</tspan><tspan x="329" dy="15.3">次大飞跃。学习方法是否科学，是学生能否学</tspan><tspan x="329" dy="15.3">好数学的极其重要的因素。当前高中生数学学</tspan><tspan x="329" dy="15.3">习方法还处在比较被动的状态，存在问题较多</tspan><tspan x="329" dy="15.3">。如学习懒散，不肯动脑;不订计划，惯性运</tspan><tspan x="329" dy="15.3">转;忽视预习，坐等上课，缺乏学习积极性和</tspan><tspan x="329" dy="15.3">主动性;诸如此类。</tspan></text></g>
<g id="b3-s4b"><rect class="r3" x="322" y="2062" width="249" height="118.1" rx="5"/><text class="t" x="329" y="2079.5"><tspan x="329">因此，教师需多花时间了解学生具体情况、学</tspan><tspan x="329" dy="15.3">习状态，对学生数学学习方法进行指导，力求</tspan><tspan x="329" dy="15.3">做到转变思想与传授方法结合，课上与课下结</tspan><tspan x="329" dy="15.3">合，学法与教法结合，统一指导与个别指导结</tspan><tspan x="329" dy="15.3">合，促进学生掌握正确的学习方法。只有凭借</tspan><tspan x="329" dy="15.3">着良好的学习方法，才能达到"事半功倍"的学</tspan><tspan x="329" dy="15.3">习效果。</tspan></text></g>
<g id="b3-s5"><rect class="r3" x="594" y="2573" width="153" height="27" rx="5"/><text class="t" x="601" y="2590.5">五、对小组合作学习的反思</text></g>
<g id="b3-s5-0"><rect class="r3" x="322" y="2206" width="249" height="56.9" rx="5"/><text class="t" x="329" y="2223.5"><tspan x="329">"小组合作学习"目前已经成为新课标理念下的</tspan><tspan x="329" dy="15.3">一项重要教学组织形式，但在实践中，我们发</tspan><tspan x="329" dy="15.3">现小组合作学习方式的实施存在着误区。</tspan></text></g>
<g id="b3-s5-1"><rect class="r3" x="322" y="2289" width="249" height="72.2" rx="5"/><text class="t" x="329" y="2306.5"><tspan x="329">1、小组合作活动流于形式，缺乏实质的合作</tspan><tspan x="329" dy="15.3">。教师为追求学习方式的多样化，不根据教学</tspan><tspan x="329" dy="15.3">内容的特点和学生实际盲目地采用小组合作学</tspan><tspan x="329" dy="15.3">习方式。</tspan></text></g>
<g id="b3-s5-2"><rect class="r3" x="322" y="2388" width="249" height="56.9" rx="5"/><text class="t" x="329" y="2405.5"><tspan x="329">2、合作人员搭配不合理，责任扩散和"搭车"</tspan><tspan x="329" dy="15.3">现象时有发生，不利于让不同特质、不同层次</tspan><tspan x="329" dy="15.3">的学生进行优势互补、相互促进。</tspan></text></g>
<g id="b3-s5-3"><rect class="r3" x="322" y="2471" width="249" height="72.2" rx="5"/><text class="t" x="329" y="2488.5"><tspan x="329">3、学生社交技能欠缺，之间缺乏沟通和深层</tspan><tspan x="329" dy="15.3">次的交流，合作效率低下，结果是优等生的想</tspan><tspan x="329" dy="15.3">法代替了小组其他成员的意见和想法，差生成</tspan><tspan x="329" dy="15.3">了陪衬。</tspan></text></g>
<g id="b3-s5-4"><rect class="r3" x="322" y="2570" width="249" height="56.9" rx="5"/><text class="t" x="329" y="2587.5"><tspan x="329">4、教师课前对合作学习的目的、时机及过程</tspan><tspan x="329" dy="15.3">没有认真设计，也有教师在合作学习中只是按</tspan><tspan x="329" dy="15.3">照预定的设计，把学生往教学框架里赶。</tspan></text></g>
<g id="b3-s5-5"><rect class="r3" x="322" y="2652" width="249" height="87.5" rx="5"/><text class="t" x="329" y="2669.5"><tspan x="329">5、合作时间给予不足。在小组合作学习时，</tspan><tspan x="329" dy="15.3">教师呈现问题后，未留给学生片刻思考时间就</tspan><tspan x="329" dy="15.3">宣布"开始"，不到几分钟就叫"停止"。这样的</tspan><tspan x="329" dy="15.3">小组合作学习不但达不到目的，而且很容易挫</tspan><tspan x="329" dy="15.3">伤学生合作学习的热情。</tspan></text></g>
<g id="b3-s5-6"><rect class="r3" x="322" y="2766" width="249" height="87.5" rx="5"/><text class="t" x="329" y="2783.5"><tspan x="329">6、表面上的"假热闹"，实际上"活而无序"。</tspan><tspan x="329" dy="15.3">课堂秩序混乱，学生发言七嘴八舌，教师对小</tspan><tspan x="329" dy="15.3">组学习缺乏必要的计划与调控、当学生和小组</tspan><tspan x="329" dy="15.3">面临问题时，教师无法对一些问题进行辨别分</tspan><tspan x="329" dy="15.3">析，为学生提供有效帮助。</tspan></text></g>
<g id="b3-s5-7"><rect class="r3" x="322" y="2888" width="249" height="102.8" rx="5"/><text class="t" x="329" y="2905.5"><tspan x="329">7、评价体系没有跟上，三重三轻突出，小组</tspan><tspan x="329" dy="15.3">合作名存实亡。小组代表或个别优等生的发言</tspan><tspan x="329" dy="15.3">，多数代表本组意见，而是代表个人意见。合</tspan><tspan x="329" dy="15.3">作学习结果变为：重个体评价轻小组评价;重</tspan><tspan x="329" dy="15.3">学习成果评价轻合作意识、合作方法、合作技</tspan><tspan x="329" dy="15.3">能评价;重课堂随机评价轻定期评价等。</tspan></text></g>
<g id="b3-s5-7a"><rect class="r3" x="51" y="2879" width="248" height="118.1" rx="5"/><text class="t" x="58" y="2896.5"><tspan x="58">我们应明确，合作学习这只是有效学习方式中</tspan><tspan x="58" dy="15.3">的一种，教学中根据教学目标、教学内容等合</tspan><tspan x="58" dy="15.3">理的选择教学行为和学习方式，要避免"将所</tspan><tspan x="58" dy="15.3">有的原料配料放入合作学习之盘"。教师需关</tspan><tspan x="58" dy="15.3">注学情，提前建立评价体系，挖掘合作点，顺</tspan><tspan x="58" dy="15.3">学而导，使学生掌握技能会合作，同时应提供</tspan><tspan x="58" dy="15.3">充裕的合作学习时间，激活内因真正促发展。</tspan></text></g>
<g id="b3-s6"><rect class="r3" x="628" y="3137.5" width="119" height="27" rx="5"/><text class="t" x="635" y="3155">六、对习题评讲的反思</text></g>
<g id="b3-s6a"><rect class="r3" x="358" y="3022" width="248" height="102.8" rx="5"/><text class="t" x="365" y="3039.5"><tspan x="365">习题、试卷评讲不能仅停留于指出不足、改正</tspan><tspan x="365" dy="15.3">错误这一层面，而应当引导学生分析错误的原</tspan><tspan x="365" dy="15.3">因，总结解题的方法和规律，使学生在评讲中</tspan><tspan x="365" dy="15.3">有所收获，有所提高。教师要善于发现学生解</tspan><tspan x="365" dy="15.3">答中的闪光点，及时给予肯定和鼓励，激发学</tspan><tspan x="365" dy="15.3">生学习数学的兴趣。</tspan></text></g>
<g id="b3-s6b"><rect class="r3" x="358" y="3149" width="248" height="118.1" rx="5"/><text class="t" x="365" y="3166.5"><tspan x="365">总之，教学反思是教师专业成长的重要途径。</tspan><tspan x="365" dy="15.3">教师只有不断地反思自己的教学行为，总结经</tspan><tspan x="365" dy="15.3">验，吸取教训，才能不断提高自身的教学水平</tspan><tspan x="365" dy="15.3">，提高课堂教学的效率，促进学生的全面发展</tspan><tspan x="365" dy="15.3">，才能真正成为一名合格的数学教师，适应新</tspan><tspan x="365" dy="15.3">时代教育教学的要求，满足新一轮课程教学</tspan><tspan x="365" dy="15.3">改革的需要。</tspan></text></g>

<g id="b5"><rect x="770" y="4196" width="176" height="34" rx="5" fill="#3c87c9"/><text class="bt" x="780" y="4218">优秀教师数学教学反思5</text></g>
<g id="b5-intro"><rect class="r5" x="499" y="3297" width="248" height="164" rx="5"/><text class="t" x="506" y="3314.5"><tspan x="506">在新课改之后，我国的教育模式和内容都发生</tspan><tspan x="506" dy="15.3">了一部分变动，教师要能够与时俱进，相应国</tspan><tspan x="506" dy="15.3">家教育的号召，在教学之中改变故有的模式，</tspan><tspan x="506" dy="15.3">具备创新思维，对教学不断反思，在反思之中</tspan><tspan x="506" dy="15.3">取得进步，为国家的教育，提高学生的学习成</tspan><tspan x="506" dy="15.3">绩做出贡献。在经历过新课改之后，笔者在和</tspan><tspan x="506" dy="15.3">众多教学工作者探讨之后，对初中数学的教学</tspan><tspan x="506" dy="15.3">进行反思，在反思之中发现一些问题和解决方</tspan><tspan x="506" dy="15.3">法，希望有助于提高在数学教学之中处于朦胧</tspan><tspan x="506" dy="15.3">时期的教学工作者。</tspan></text></g>
<g id="b5-s1"><rect class="r5" x="499" y="3697" width="248" height="41.6" rx="5"/><text class="t" x="506" y="3714.5"><tspan x="506">一、在教学之中做好角色转换，改变故有的教</tspan><tspan x="506" dy="15.3">学行为</tspan></text></g>
<g id="b5-s1a"><rect class="r5" x="228" y="3487" width="248" height="209.9" rx="5"/><text class="t" x="235" y="3504.5"><tspan x="235">在以往的教学之中，教师是学生知识的传授者</tspan><tspan x="235" dy="15.3">，教师在教学之中都十分注重对学生知识的传</tspan><tspan x="235" dy="15.3">授，因此十分容易忽视对学生学习知识的引导</tspan><tspan x="235" dy="15.3">这个过程。如果说学生的学习犹如爱海中航</tspan><tspan x="235" dy="15.3">行的帆船，而教师应该做的是在海中为学生指</tspan><tspan x="235" dy="15.3">引的灯塔，而不是一直在旁边对帆船进行补给</tspan><tspan x="235" dy="15.3">的大船。所以在新课改之中特别强调了教师要</tspan><tspan x="235" dy="15.3">从学生知识的传授者变成学生学习的组织者。</tspan><tspan x="235" dy="15.3">一直以来，中国都有一句古话，"授之以鱼不</tspan><tspan x="235" dy="15.3">如授之以渔"，所以教师在教学之中应该注重</tspan><tspan x="235" dy="15.3">对学生学习方法的培养，让学生养成自主学习</tspan><tspan x="235" dy="15.3">的习惯，而不是一味的传授知识，忽视学生学</tspan><tspan x="235" dy="15.3">习技能的培养。</tspan></text></g>
<g id="b5-s1b"><rect class="r5" x="228" y="3722" width="248" height="240.5" rx="5"/><text class="t" x="235" y="3739.5"><tspan x="235">教师要做好学生学习工作的组织者，首先是应</tspan><tspan x="235" dy="15.3">对学生有充足的了解。因材施教，从而让教学</tspan><tspan x="235" dy="15.3">的效率达到最大。在日常学习生活之中，教师</tspan><tspan x="235" dy="15.3">应该能够和学生建立平等的师生关系，与学生</tspan><tspan x="235" dy="15.3">相互尊重。这种尊重尤其体现在课堂之上，在</tspan><tspan x="235" dy="15.3">课堂之中，如果教师不能够做到尊重学生，尊</tspan><tspan x="235" dy="15.3">重学生的劳动成果，那么学生很容易对教师产</tspan><tspan x="235" dy="15.3">生抵触情绪，对教师的这个科目自然也就是毫</tspan><tspan x="235" dy="15.3">无兴趣，学习成绩也就很难提高起来。平等融</tspan><tspan x="235" dy="15.3">洽的师生关系对于提高学生在课堂的发言很有</tspan><tspan x="235" dy="15.3">帮助。对于自己喜爱的教师，学生一般都会极</tspan><tspan x="235" dy="15.3">为关注，在课堂之中也会非常认真的跟随教师</tspan><tspan x="235" dy="15.3">的步骤进行学习，所以教师一定要能够放下"</tspan><tspan x="235" dy="15.3">架子"，走进学生之中，了解学生，从而做好</tspan><tspan x="235" dy="15.3">学生工作的引导者。</tspan></text></g>
<g id="b5-s2"><rect class="r5" x="617" y="4156" width="130" height="27" rx="5"/><text class="t" x="624" y="4173.5">二、教学之中活用教材</text></g>
<g id="b5-s2a"><rect class="r5" x="347" y="3989" width="248" height="362.9" rx="5"/><text class="t" x="354" y="4006.5"><tspan x="354">教材是教师教学的基本资料，学生学习的理论</tspan><tspan x="354" dy="15.3">依据也是教材，所以教师首先要能够把握好教</tspan><tspan x="354" dy="15.3">材，吃透教材，在对教材的完全掌握之下，灵</tspan><tspan x="354" dy="15.3">活运用，让一本枯燥无趣的死教材活起来，让</tspan><tspan x="354" dy="15.3">学生对于教材之中的理论知识产生兴趣，进行</tspan><tspan x="354" dy="15.3">自主研究。教材的活学活用可以是多个方面，</tspan><tspan x="354" dy="15.3">教师可以运用的东西也有很多。比如说多媒体</tspan><tspan x="354" dy="15.3">，在多媒体引进教学之后，学生对于课堂也充</tspan><tspan x="354" dy="15.3">满了好奇和期盼，多媒体能够将"死"的教材变</tspan><tspan x="354" dy="15.3">成动态的，将知识从多个方面呈现给学生，丰</tspan><tspan x="354" dy="15.3">富学生的课堂生活，让学生更加愿意参与在课</tspan><tspan x="354" dy="15.3">堂之中，愿意进行学习。教师可以运用多种手</tspan><tspan x="354" dy="15.3">段来提高学生的创新和学习能力，比如说在讲</tspan><tspan x="354" dy="15.3">授圆周率这个课堂的时候，教师可以让学生自</tspan><tspan x="354" dy="15.3">己裁剪出大小不同的圆形，然后运用测量工具</tspan><tspan x="354" dy="15.3">，测量出各个圆形的大小和周长，让学生在自</tspan><tspan x="354" dy="15.3">己的探究之中发现规律，然后在学生探究之后</tspan><tspan x="354" dy="15.3">，为学生进行总的概括，引出教材之中的理论</tspan><tspan x="354" dy="15.3">知识点，为学生指点迷津。教材之中的知识都</tspan><tspan x="354" dy="15.3">是基础内容，都是需要学生能够掌握，活学活</tspan><tspan x="354" dy="15.3">用的。所以教师在授课的时候灵活运用教材，</tspan><tspan x="354" dy="15.3">将死板的知识灵活的传授给学生，学生才能够</tspan><tspan x="354" dy="15.3">再灵活的将知识运用到做题之中。</tspan></text></g>
<g id="b5-s3"><rect class="r5" x="534" y="4602" width="213" height="27" rx="5"/><text class="t" x="541" y="4619.5">三、教学之中注重学生学习兴趣的培养</text></g>
<g id="b5-s3a"><rect class="r5" x="263" y="4377" width="249" height="240.5" rx="5"/><text class="t" x="270" y="4394.5"><tspan x="270">学习兴趣的培养对于学生的学习十分关键。学</tspan><tspan x="270" dy="15.3">生对于自己有兴趣的科目的学习会勇往直前，</tspan><tspan x="270" dy="15.3">就算是遇到困难，不是很容易理解学习的内容</tspan><tspan x="270" dy="15.3">的时候，学生还是会用一种积极的心态来面对</tspan><tspan x="270" dy="15.3">，将这种困难视为一种挑战，以征服这种挑战</tspan><tspan x="270" dy="15.3">为乐趣。然而对于数学这个科目没有兴趣的学</tspan><tspan x="270" dy="15.3">生，在遇到困难的时候，则会更加丧失信心，</tspan><tspan x="270" dy="15.3">有的甚至会对自己的智力存在怀疑，对这个科</tspan><tspan x="270" dy="15.3">目的学习产生抵触心理，十分的厌恶数学。很</tspan><tspan x="270" dy="15.3">多教师在教学之中都容易忽视这点，而且对于</tspan><tspan x="270" dy="15.3">对学习丧失兴趣的同学不予以鼓励，反倒是有</tspan><tspan x="270" dy="15.3">些责怪和批评，这样只会让学生的抵触心理增</tspan><tspan x="270" dy="15.3">强，甚至最后想要放弃这个科目的学习。对学</tspan><tspan x="270" dy="15.3">生学习兴趣的培养是一项十分重要的工作，也</tspan><tspan x="270" dy="15.3">是教师一定要做好的工作。</tspan></text></g>
<g id="b5-s3b"><rect class="r5" x="263" y="4643" width="249" height="179.3" rx="5"/><text class="t" x="270" y="4660.5"><tspan x="270">教师在教学之中可以尝试对那些对数学的学习</tspan><tspan x="270" dy="15.3">十分厌倦和恐惧的学生进行不断的鼓励，让学</tspan><tspan x="270" dy="15.3">生重拾信心，教师的鼓励是学生前进的动力，</tspan><tspan x="270" dy="15.3">所以教师在教学之中千万不要忽视了这些鼓励</tspan><tspan x="270" dy="15.3">。"好孩子是夸出来的"，而好的成绩也是教师</tspan><tspan x="270" dy="15.3">对学生的不断鼓励之中催出来的。数学之中很</tspan><tspan x="270" dy="15.3">多内容都是涉及到日常生活，所以教师也可以</tspan><tspan x="270" dy="15.3">结合生活进行教学，通过让学生做一些关于生</tspan><tspan x="270" dy="15.3">活的调查将数学运用到实际之中，让学生学以</tspan><tspan x="270" dy="15.3">致用，这样以来学生觉得数学十分的有用，自</tspan><tspan x="270" dy="15.3">然也会更加努力的学习。</tspan></text></g>
<g id="b5-s4"><rect class="r5" x="534" y="5035" width="213" height="27" rx="5"/><text class="t" x="541" y="5052.5">四、注重自身知识掌握，提高教学技能</text></g>
<g id="b5-s4a"><rect class="r5" x="263" y="4848" width="249" height="209.9" rx="5"/><text class="t" x="270" y="4865.5"><tspan x="270">教师在反思的时候不仅要对教学方式，教学方</tspan><tspan x="270" dy="15.3">法进行反思，还要对自己的专业技能进行反思</tspan><tspan x="270" dy="15.3">。教师在教学之中要保持一种积极乐观的心态</tspan><tspan x="270" dy="15.3">，像孩子一样保持一颗好奇心，在自己专业的</tspan><tspan x="270" dy="15.3">领域不断探索，不断的追求，不断的学习，为</tspan><tspan x="270" dy="15.3">学生树立一个学习的榜样。榜样的力量是无穷</tspan><tspan x="270" dy="15.3">的，如果教师在教学领域赢得学生的认可和尊</tspan><tspan x="270" dy="15.3">重，那么对于教师所教授的科目，学生自然是</tspan><tspan x="270" dy="15.3">会以教师为奋斗目标，向榜样学习。而且中国</tspan><tspan x="270" dy="15.3">的教育处于不断的发展之中，课程的教学也在</tspan><tspan x="270" dy="15.3">不断的改革，所以教师只有在不断的学习之中</tspan><tspan x="270" dy="15.3">才能够跟上时代的步伐，为学生做好学习的引</tspan><tspan x="270" dy="15.3">导者。</tspan></text></g>
<g id="b5-s4b"><rect class="r5" x="263" y="5084" width="249" height="118.1" rx="5"/><text class="t" x="270" y="5101.5"><tspan x="270">教学需要不断的反思，在不断的反思之中才有</tspan><tspan x="270" dy="15.3">进步，所以教师在日常教学之中要时常反思自</tspan><tspan x="270" dy="15.3">己，从教学上面和自身素质方面多思考，多探</tspan><tspan x="270" dy="15.3">索，提高教学水平，积极响应国家教育的政策</tspan><tspan x="270" dy="15.3">，成为学生学习的组织者，让学生能够做到自</tspan><tspan x="270" dy="15.3">主学习，从而提高学生的学习能力和创新能力</tspan><tspan x="270" dy="15.3">。在为祖国培养人才的上面做出贡献。</tspan></text></g>

<g id="b4"><rect x="1247" y="3530" width="176" height="34" rx="5" fill="#c23d92"/><text class="bt" x="1257" y="3552">优秀教师数学教学反思4</text></g>
<g id="b4-a"><rect class="r4" x="1446" y="3335" width="249" height="102.8" rx="5"/><text class="t" x="1453" y="3352.5"><tspan x="1453">本学期已过了一段阶段了，作为初三毕业班的</tspan><tspan x="1453" dy="15.3">数学老师，我深感肩上的压力之大，责任之重</tspan><tspan x="1453" dy="15.3">。目前，对于初三这个重要的学习阶段，如何</tspan><tspan x="1453" dy="15.3">进行有效的教学可以使学生的学习起到很大的</tspan><tspan x="1453" dy="15.3">作用。而目前在学生的学习中还出现以下学习</tspan><tspan x="1453" dy="15.3">的情况:</tspan></text></g>
<g id="b4-a1"><rect class="r4" x="1717" y="3199" width="249" height="118.1" rx="5"/><text class="t" x="1724" y="3216.5"><tspan x="1724">多数情况下，也比较擅长提出启发性的问题来</tspan><tspan x="1724" dy="15.3">激发学生的思考，但问题提出后没给学生留下</tspan><tspan x="1724" dy="15.3">足够的思维空间甚至不留思维空间，往往习惯</tspan><tspan x="1724" dy="15.3">于自问自答，急于说出结果、显然，学生对题</tspan><tspan x="1724" dy="15.3">目只是片面的理解，不能引发学生的深思，就</tspan><tspan x="1724" dy="15.3">不能给学生深刻的印象，因此造成很多学生对</tspan><tspan x="1724" dy="15.3">于做过的题一点印象也没有。</tspan></text></g>
<g id="b4-a2"><rect class="r4" x="1717" y="3343" width="249" height="118.1" rx="5"/><text class="t" x="1724" y="3360.5"><tspan x="1724">我在备课的时候对问题已备选了一个或几个解</tspan><tspan x="1724" dy="15.3">决方案，课堂上以"定势思维"组织教学，但教</tspan><tspan x="1724" dy="15.3">学中的不确定因素很多，当学生的思路与我的</tspan><tspan x="1724" dy="15.3">思路相左或学生的想法不切实际时，不愿打乱</tspan><tspan x="1724" dy="15.3">即定的教学计划，干脆采取回避、压制措施，</tspan><tspan x="1724" dy="15.3">使学生的求异思维、批判思维、创造性思维被</tspan><tspan x="1724" dy="15.3">束缚。</tspan></text></g>
<g id="b4-a3"><rect class="r4" x="1717" y="3487" width="249" height="56.9" rx="5"/><text class="t" x="1724" y="3504.5"><tspan x="1724">对问题的坡度设置的不够，坡度过大，导致思</tspan><tspan x="1724" dy="15.3">维卡壳，学生的思维活动不能深入进行而流于</tspan><tspan x="1724" dy="15.3">形式。</tspan></text></g>
<g id="b4-b"><rect class="r4" x="1446" y="3695" width="249" height="27" rx="5"/><text class="t" x="1453" y="3712.5">针对以上这些情况，下阶段准备采取的措施:</text></g>
<g id="b4-b1"><rect class="r4" x="1717" y="3570" width="196" height="27" rx="5"/><text class="t" x="1724" y="3587.5">1、对过多的题，进行适当的筛选。</text></g>
<g id="b4-b2"><rect class="r4" x="1717" y="3622" width="249" height="41.6" rx="5"/><text class="t" x="1724" y="3639.5"><tspan x="1724">2、还给学生一片思维空间，让学生受到适当</tspan><tspan x="1724" dy="15.3">的"挫折"教育，以加深对问题的认识。</tspan></text></g>
<g id="b4-b3"><rect class="r4" x="1717" y="3691" width="249" height="72.2" rx="5"/><text class="t" x="1724" y="3708.5"><tspan x="1724">3、学生有不同想法单独与教师交谈，好的想</tspan><tspan x="1724" dy="15.3">法给予鼓励并加以推广;不对的想法，给予单</tspan><tspan x="1724" dy="15.3">独的指正。这样，学生即可以大胆放心的说出</tspan><tspan x="1724" dy="15.3">自己的想法，又可以把一些教学中漏洞补上。</tspan></text></g>
<g id="b4-b4"><rect class="r4" x="1717" y="3788" width="249" height="87.5" rx="5"/><text class="t" x="1724" y="3805.5"><tspan x="1724">4、精心设置问题的坡度，使学生步步深入，</tspan><tspan x="1724" dy="15.3">并探究出规律。课堂上注意课堂节奏，尽量让</tspan><tspan x="1724" dy="15.3">中下游的学生跟上老师的步伐，多给学生自己</tspan><tspan x="1724" dy="15.3">练习的时间，让学生真正成为学习的主体，做</tspan><tspan x="1724" dy="15.3">到不仅是老师完成任务，还要学生完成任务。</tspan></text></g>
<g id="b4-b4a"><rect class="r4" x="1989" y="3811" width="248" height="41.6" rx="5"/><text class="t" x="1996" y="3828.5"><tspan x="1996">相信经过我的不懈努力，一定会不断取得进步</tspan><tspan x="1996" dy="15.3">!</tspan></text></g>

<g id="b6"><rect x="1247" y="4125" width="252" height="55" rx="5" fill="#7b5ca8"/><text class="bt" x="1257" y="4147"><tspan x="1257">优秀教师数学教学反思5篇相关文</tspan><tspan x="1257" dy="20.5">章</tspan></text></g>
<g id="b6-1"><rect class="r6" x="1522" y="3903" width="202" height="27" rx="5"/><text class="t" x="1529" y="3920.5">★ 中学老师的数学教学反思范文五篇</text></g>
<g id="b6-2"><rect class="r6" x="1522" y="3955" width="186" height="27" rx="5"/><text class="t" x="1529" y="3972.5">★ 数学老师教学工作反思总结5篇</text></g>
<g id="b6-3"><rect class="r6" x="1522" y="4008" width="138" height="27" rx="5"/><text class="t" x="1529" y="4025.5">★ 初中数学教学反思5篇</text></g>
<g id="b6-4"><rect class="r6" x="1522" y="4060" width="162" height="27" rx="5"/><text class="t" x="1529" y="4077.5">★ 数学教学反思总结分析5篇</text></g>
<g id="b6-5"><rect class="r6" x="1522" y="4112" width="186" height="27" rx="5"/><text class="t" x="1529" y="4129.5">★ 小学数学教师个人教学反思5篇</text></g>
<g id="b6-6"><rect class="r6" x="1522" y="4165" width="162" height="27" rx="5"/><text class="t" x="1529" y="4182.5">★ 小学数学课堂教学反思5篇</text></g>
<g id="b6-7"><rect class="r6" x="1522" y="4218" width="209" height="27" rx="5"/><text class="t" x="1529" y="4235.5">★ 数学教学反思优缺点和改进【5篇】</text></g>
<g id="b6-8"><rect class="r6" x="1522" y="4270" width="178" height="27" rx="5"/><text class="t" x="1529" y="4287.5">★ 初中数学教学反思和随笔五篇</text></g>
<g id="b6-9"><rect class="r6" x="1522" y="4323" width="162" height="27" rx="5"/><text class="t" x="1529" y="4340.5">★ 数学教学反思总结模板5篇</text></g>
<g id="b6-10"><rect class="r6" x="1522" y="4375" width="209" height="27" rx="5"/><text class="t" x="1529" y="4392.5">★ 小学数学教学教师反思心得总结5篇</text></g>
</g>
</svg>
